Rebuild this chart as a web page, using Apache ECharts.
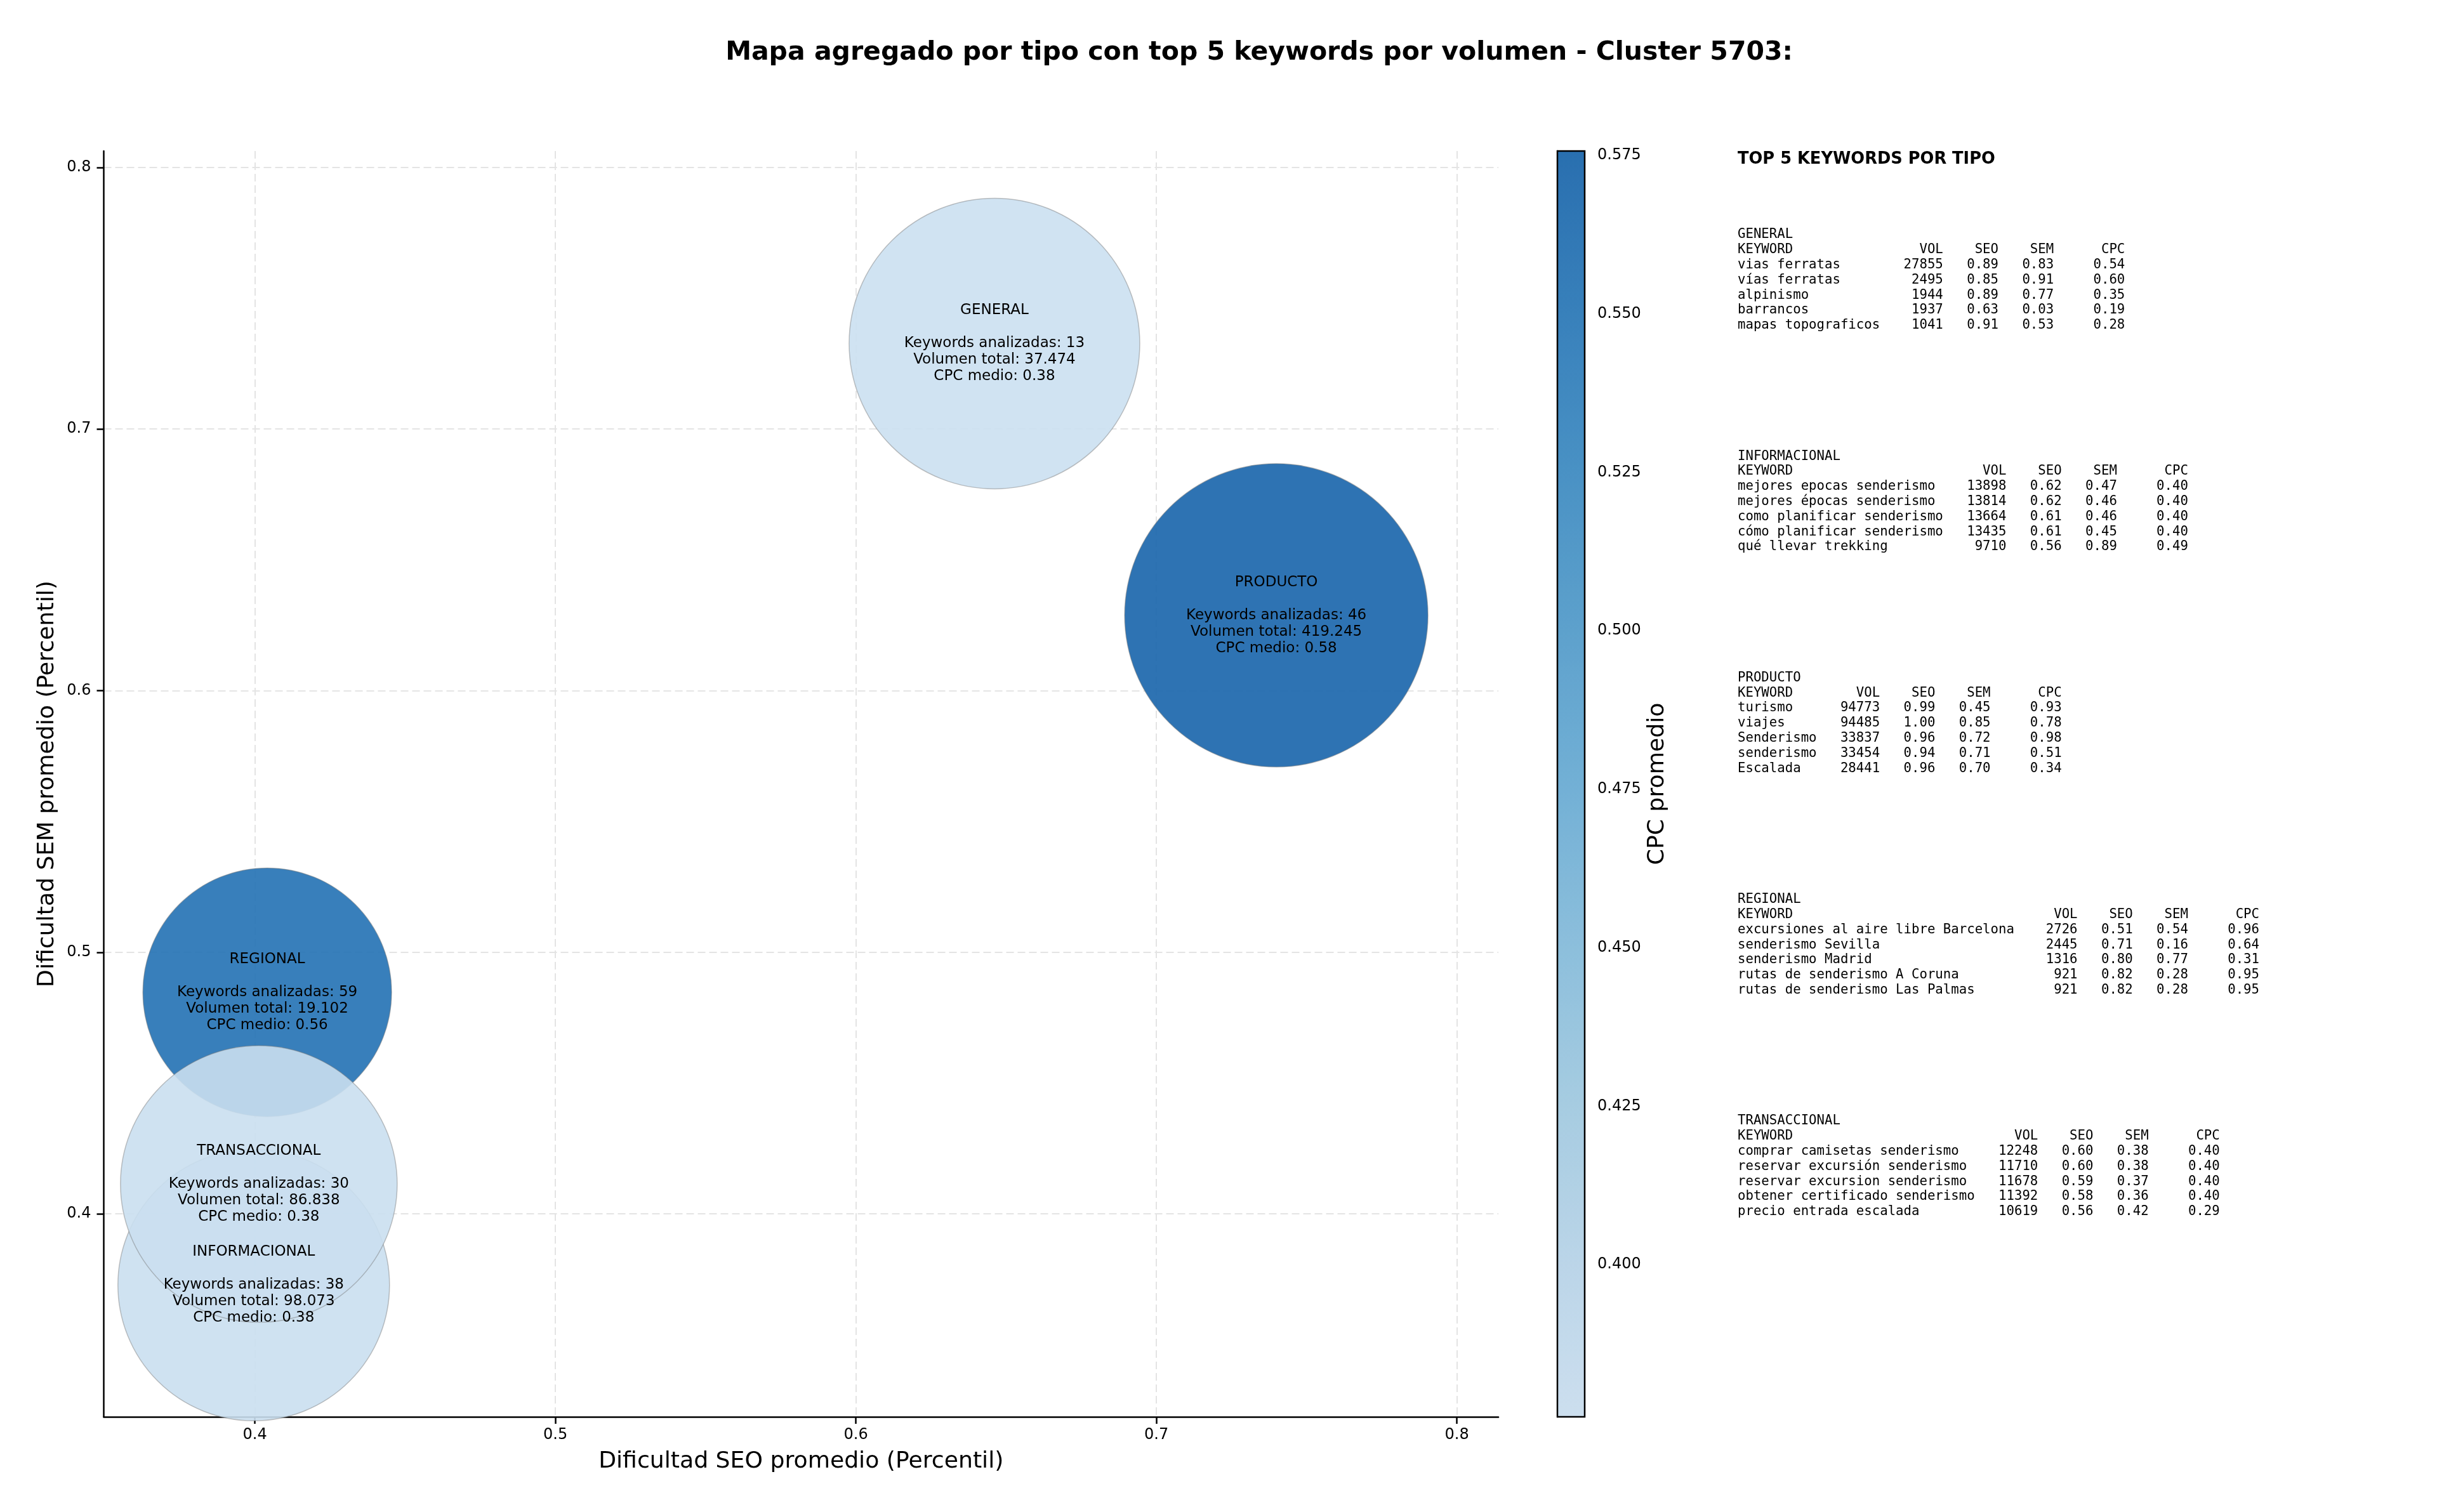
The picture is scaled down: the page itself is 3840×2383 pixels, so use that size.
<!DOCTYPE html>
<html><head><meta charset="utf-8">
<script src="https://cdn.jsdelivr.net/npm/echarts@6/dist/echarts.min.js"></script>
<style>html,body{margin:0;padding:0;background:#fff}#c{width:3840px;height:2383px}</style>
</head><body><div id="c"></div>
<script>
// ---- data ----
const categories   = ['GENERAL', 'INFORMACIONAL', 'PRODUCTO', 'REGIONAL', 'TRANSACCIONAL'];
const seoAvg       = [0.6461, 0.3996, 0.7399, 0.4041, 0.4013];
const semAvg       = [0.7327, 0.3728, 0.6288, 0.4847, 0.4114];
const cpcAvg       = [0.377, 0.379, 0.5757, 0.559, 0.378];
const keywordCount = [13, 38, 46, 59, 30];
const totalVolume  = [37474, 98073, 419245, 19102, 86838];
const bubbleSize   = [458, 428, 478, 392, 436];
const xTicks  = [0.4, 0.5, 0.6, 0.7, 0.8];
const yTicks  = [0.4, 0.5, 0.6, 0.7, 0.8];
const cbTicks = [0.400, 0.425, 0.450, 0.475, 0.500, 0.525, 0.550, 0.575];

const topGeneral = [
  ['vias ferratas', 27855, 0.89, 0.83, 0.54],
  ['vías ferratas', 2495, 0.85, 0.91, 0.60],
  ['alpinismo', 1944, 0.89, 0.77, 0.35],
  ['barrancos', 1937, 0.63, 0.03, 0.19],
  ['mapas topograficos', 1041, 0.91, 0.53, 0.28]
];
const topInformacional = [
  ['mejores epocas senderismo', 13898, 0.62, 0.47, 0.40],
  ['mejores épocas senderismo', 13814, 0.62, 0.46, 0.40],
  ['como planificar senderismo', 13664, 0.61, 0.46, 0.40],
  ['cómo planificar senderismo', 13435, 0.61, 0.45, 0.40],
  ['qué llevar trekking', 9710, 0.56, 0.89, 0.49]
];
const topProducto = [
  ['turismo', 94773, 0.99, 0.45, 0.93],
  ['viajes', 94485, 1.00, 0.85, 0.78],
  ['Senderismo', 33837, 0.96, 0.72, 0.98],
  ['senderismo', 33454, 0.94, 0.71, 0.51],
  ['Escalada', 28441, 0.96, 0.70, 0.34]
];
const topRegional = [
  ['excursiones al aire libre Barcelona', 2726, 0.51, 0.54, 0.96],
  ['senderismo Sevilla', 2445, 0.71, 0.16, 0.64],
  ['senderismo Madrid', 1316, 0.80, 0.77, 0.31],
  ['rutas de senderismo A Coruna', 921, 0.82, 0.28, 0.95],
  ['rutas de senderismo Las Palmas', 921, 0.82, 0.28, 0.95]
];
const topTransaccional = [
  ['comprar camisetas senderismo', 12248, 0.60, 0.38, 0.40],
  ['reservar excursión senderismo', 11710, 0.60, 0.38, 0.40],
  ['reservar excursion senderismo', 11678, 0.59, 0.37, 0.40],
  ['obtener certificado senderismo', 11392, 0.58, 0.36, 0.40],
  ['precio entrada escalada', 10619, 0.56, 0.42, 0.29]
];
const tableBlocks = [
  ['GENERAL', topGeneral], ['INFORMACIONAL', topInformacional], ['PRODUCTO', topProducto],
  ['REGIONAL', topRegional], ['TRANSACCIONAL', topTransaccional]
];

// ---- helpers ----
const fmtThousands = v => String(v).replace(/\B(?=(\d{3})+(?!\d))/g, '.');
function blockText(name, rows) {
  const w = Math.max(...rows.map(r => r[0].length)) + 2;
  const lines = [name,
    'KEYWORD'.padEnd(w) + 'VOL'.padStart(6) + 'SEO'.padStart(7) + 'SEM'.padStart(7) + 'CPC'.padStart(9)];
  rows.forEach(r => lines.push(
    r[0].padEnd(w) + String(r[1]).padStart(6) + r[2].toFixed(2).padStart(7) +
    r[3].toFixed(2).padStart(7) + r[4].toFixed(2).padStart(9)));
  return lines.join('\n');
}

const seriesData = categories.map((c, i) =>
  [seoAvg[i], semAvg[i], cpcAvg[i], bubbleSize[i], c, keywordCount[i], totalVolume[i]]);

// Blues-like ramp (applied with alpha 0.9, as in the reference)
const cbColors = ['#cce0f1', '#b8d5ea', '#a1cbe2', '#84bcdc', '#68acd5', '#509bcb', '#3a8ac2', '#2777b8', '#1764ab'];

const graphics = [
  { type: 'text', x: 1984, y: 83, z: 100,
    style: { text: 'Mapa agregado por tipo con top 5 keywords por volumen - Cluster 5703:',
      font: 'bold 41px "DejaVu Sans"', fill: '#000', align: 'center', verticalAlign: 'middle' } },
  { type: 'text', x: 2738, y: 251, z: 100,
    style: { text: 'TOP 5 KEYWORDS POR TIPO', font: 'bold 25.7px "DejaVu Sans"', fill: '#000',
      align: 'left', verticalAlign: 'middle' } }
];
tableBlocks.forEach((b, i) => {
  graphics.push({ type: 'text', x: 2738, y: 370 - 11.9 + i * 349.25, z: 100,
    style: { text: blockText(b[0], b[1]), font: '20.7px "DejaVu Sans Mono"', fill: '#000',
      lineHeight: 23.8, align: 'left', verticalAlign: 'top' } });
});

const chart = echarts.init(document.getElementById('c'), null, { renderer: 'canvas', width: 3840, height: 2383 });
chart.setOption({
  animation: false,
  backgroundColor: '#ffffff',
  textStyle: { fontFamily: 'DejaVu Sans' },
  grid: [
    { left: 163.5, top: 238, width: 2197.5, height: 1995 },
    { left: 2454, top: 238, width: 43, height: 1995, show: true, borderColor: '#000', borderWidth: 2.5,
      backgroundColor: 'transparent', z: 10 }
  ],
  xAxis: [
    { gridIndex: 0, type: 'value', min: 0.3497, max: 0.8138,
      name: 'Dificultad SEO promedio (Percentil)', nameLocation: 'middle', nameGap: 53,
      nameTextStyle: { fontSize: 36.2, color: '#000', fontFamily: 'DejaVu Sans' },
      axisLine: { show: true, onZero: false, lineStyle: { color: '#000', width: 2.5 } },
      axisTick: { show: true, length: 11, customValues: xTicks, lineStyle: { color: '#000', width: 2.5 } },
      axisLabel: { customValues: xTicks, fontSize: 24, color: '#000', margin: 17, formatter: v => String(+v.toFixed(1)) },
      splitLine: { show: true, lineStyle: { color: '#e4e4e4', width: 2, type: [12, 6] } } },
    { gridIndex: 1, type: 'value', show: false, min: 0, max: 1 }
  ],
  yAxis: [
    { gridIndex: 0, type: 'value', min: 0.3224, max: 0.8063,
      name: 'Dificultad SEM promedio (Percentil)', nameLocation: 'middle', nameGap: 71,
      nameTextStyle: { fontSize: 36.2, color: '#000', fontFamily: 'DejaVu Sans' },
      axisLine: { show: true, onZero: false, lineStyle: { color: '#000', width: 2.5 } },
      axisTick: { show: true, length: 11, customValues: yTicks, lineStyle: { color: '#000', width: 2.5 } },
      axisLabel: { customValues: yTicks, fontSize: 24, color: '#000', margin: 20, formatter: v => String(+v.toFixed(1)) },
      splitLine: { show: true, lineStyle: { color: '#e4e4e4', width: 2, type: [12, 6] } } },
    { gridIndex: 1, type: 'value', position: 'right', min: 0.376, max: 0.5757,
      name: 'CPC promedio', nameLocation: 'middle', nameGap: 97,
      nameTextStyle: { fontSize: 36.2, color: '#000', fontFamily: 'DejaVu Sans' },
      axisLine: { show: true, lineStyle: { color: '#000', width: 2.5 } },
      axisTick: { show: true, length: 10, customValues: cbTicks, lineStyle: { color: '#000', width: 2.5 } },
      axisLabel: { customValues: cbTicks, fontSize: 24, color: '#000', margin: 20, formatter: v => v.toFixed(3) },
      splitLine: { show: false } }
  ],
  visualMap: {
    type: 'continuous', seriesIndex: 0, dimension: 2, min: 0.376, max: 0.5757,
    left: 2454, top: 238, itemWidth: 43, itemHeight: 1995, padding: 0, orient: 'vertical',
    calculable: false, hoverLink: false, inRange: { color: cbColors, colorAlpha: 0.9 }
  },
  graphic: graphics,
  series: [{
    type: 'scatter', xAxisIndex: 0, yAxisIndex: 0, data: seriesData,
    symbolSize: v => v[3],
    itemStyle: { opacity: 1, borderColor: 'rgba(120,120,120,0.45)', borderWidth: 1.5 },
    emphasis: { disabled: true },
    label: { show: true, position: 'inside', color: '#000', fontSize: 23, lineHeight: 26,
      fontFamily: 'DejaVu Sans', align: 'center',
      formatter: p => `${p.data[4]}\n\nKeywords analizadas: ${p.data[5]}\nVolumen total: ${fmtThousands(p.data[6])}\nCPC medio: ${p.data[2].toFixed(2)}` }
  }]
});
</script></body></html>
